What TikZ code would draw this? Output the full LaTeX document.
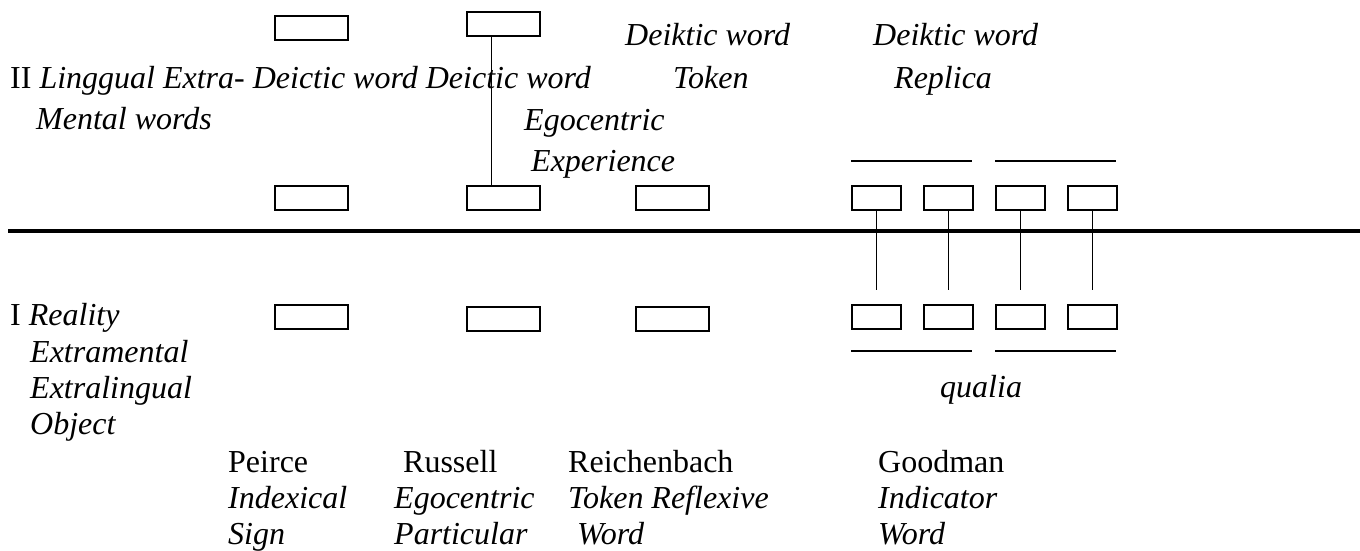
\documentclass[tikz,border=0pt]{standalone}
\usepackage{fontspec}
\setmainfont{Liberation Serif}
\usetikzlibrary{calc}
\begin{document}
\begin{tikzpicture}[x=1pt,y=-1pt,
  bigbox/.style={draw,line width=1.8pt,minimum width=73pt,minimum height=24pt,inner sep=0pt,anchor=north west},
  smallbox/.style={draw,line width=1.8pt,minimum width=49pt,minimum height=24pt,inner sep=0pt,anchor=north west},
  link/.style={line width=1.8pt},
  bar/.style={line width=1.6pt},
  txt/.style={anchor=base west,inner sep=0pt,font=\fontsize{32}{38}\selectfont},
  itx/.style={txt,font=\fontsize{32}{38}\selectfont\itshape}]
\useasboundingbox (0,0) rectangle (1360,550);
% top row
\node[bigbox] (a1) at (274,15) {};
\node[bigbox] (b1) at (466,11) {};
% second row
\node[bigbox] (a2) at (274,185) {};
\node[bigbox] (b2) at (466,185) {};
\node[bigbox] (c2) at (635,185) {};
\node[smallbox] (d2) at (851,185) {};
\node[smallbox] (e2) at (923,185) {};
\node[smallbox] (f2) at (995,185) {};
\node[smallbox] (g2) at (1067,185) {};
% third row
\node[bigbox] (a3) at (274,304) {};
\node[bigbox] (b3) at (466,306) {};
\node[bigbox] (c3) at (635,306) {};
\node[smallbox] (d3) at (851,304) {};
\node[smallbox] (e3) at (923,304) {};
\node[smallbox] (f3) at (995,304) {};
\node[smallbox] (g3) at (1067,304) {};
% thick divider
\coordinate (divl) at (8,231);
\coordinate (divr) at (1360,231);
\draw[line width=4pt] (divl) -- (divr);
% connectors
\draw[link] ($(b1.south west)!0.34!(b1.south east)$) -- ($(b2.north west)!0.34!(b2.north east)$);
\coordinate (dend) at ($(d2.south)+(0,79)$);
\coordinate (eend) at ($(e2.south)+(0,79)$);
\coordinate (fend) at ($(f2.south)+(0,79)$);
\coordinate (gend) at ($(g2.south)+(0,79)$);
\draw[link] (d2.south) -- (dend);
\draw[link] (e2.south) -- (eend);
\draw[link] (f2.south) -- (fend);
\draw[link] (g2.south) -- (gend);
% short bars
\coordinate (t1l) at (851,161); \coordinate (t1r) at (972,161);
\coordinate (t2l) at (995,161); \coordinate (t2r) at (1116,161);
\coordinate (u1l) at (851,351); \coordinate (u1r) at (972,351);
\coordinate (u2l) at (995,351); \coordinate (u2r) at (1116,351);
\draw[bar] (t1l) -- (t1r);
\draw[bar] (t2l) -- (t2r);
\draw[bar] (u1l) -- (u1r);
\draw[bar] (u2l) -- (u2r);
% texts upper
\node[itx] (dk1) at (625,45) {Deiktic word};
\node[itx] (dk2) at (873,45) {Deiktic word};
\node[txt] (ii) at (10,88) {II \itshape Linggual Extra- Deictic word Deictic word};
\node[itx] (tok) at (673,88) {Token};
\node[itx] (rep) at (894,88) {Replica};
\node[itx] (mw) at (36,129) {Mental words};
\node[itx] (ego) at (524,130) {Egocentric};
\node[itx] (exp) at (531,171) {Experience};
% texts lower
\node[txt] (i) at (10,325) {I \itshape Reality};
\node[itx] (em) at (30,362) {Extramental};
\node[itx] (el) at (30,398) {Extralingual};
\node[itx] (ob) at (30,434) {Object};
\node[itx] (qu) at (940,397) {qualia};
\node[txt] (pe) at (228,472) {Peirce};
\node[itx] (ix) at (228,508) {Indexical};
\node[itx] (si) at (228,544) {Sign};
\node[txt] (ru) at (403,472) {Russell};
\node[itx] (eg) at (394,508) {Egocentric};
\node[itx] (pa) at (394,544) {Particular};
\node[txt] (re) at (568,472) {Reichenbach};
\node[itx] (tr) at (568,508) {Token Reflexive};
\node[itx] (wo) at (577,544) {Word};
\node[txt] (go) at (878,472) {Goodman};
\node[itx] (in) at (878,508) {Indicator};
\node[itx] (wd) at (878,544) {Word};
\end{tikzpicture}
\end{document}
